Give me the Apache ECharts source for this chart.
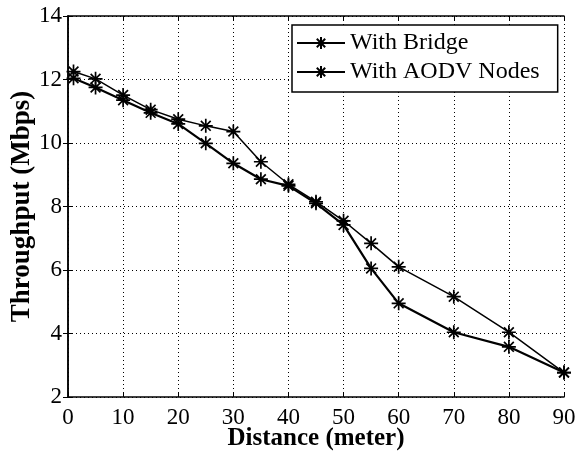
<!DOCTYPE html>
<html><head><meta charset="utf-8">
<script src="https://cdn.jsdelivr.net/npm/echarts@6/dist/echarts.min.js"></script>
<style>html,body{margin:0;padding:0;background:#fff}#c{width:577px;height:462px}</style>
</head><body><div id="c"></div>
<script>
const distances = [1,5,10,15,20,25,30,35,40,45,50,55,60,70,80,90];
const withBridge = [12.25,12.02,11.51,11.05,10.75,10.54,10.36,9.41,8.7,8.15,7.55,6.84,6.1,5.16,4.04,2.77];
const withAODV = [12.04,11.75,11.35,10.95,10.6,9.99,9.36,8.86,8.65,8.1,7.42,6.05,4.95,4.04,3.58,2.77];
const seriesNames = ['With Bridge','With AODV Nodes'];

const FONT = '"Liberation Serif", "DejaVu Serif", serif';
const star = 'path://M5,0L5,10M0,5L10,5M1.5,1.5L8.5,8.5M1.5,8.5L8.5,1.5';
const pairs = ys => distances.map((x,i)=>[x, ys[i]]);

const chart = echarts.init(document.getElementById('c'), null, {renderer:'canvas'});
const baseAxis = {
  axisLine:{show:true, lineStyle:{color:'#000', width:1.5}},
  axisTick:{show:true, inside:true, length:5, lineStyle:{color:'#000'}},
};
chart.setOption({
  animation:false,
  backgroundColor:'#fff',
  grid:{left:68, right:13, top:16, bottom:65, show:false, containLabel:false, outerBoundsMode:'none'},
  legend:{
    orient:'vertical', left:292, top:25,
    padding:[6,18,8,4], itemGap:5, itemWidth:48, itemHeight:15,
    borderColor:'#000', borderWidth:1.5, backgroundColor:'#fff',
    textStyle:{fontFamily:FONT, fontSize:24, color:'#000', lineHeight:24},
    data:seriesNames
  },
  xAxis:[
    Object.assign({}, baseAxis, {type:'value', min:0, max:90, interval:10,
      name:'Distance (meter)', nameLocation:'middle', nameGap:29, nameMoveOverlap:false,
      nameTextStyle:{fontFamily:FONT, fontSize:25, fontWeight:'bold', color:'#000'},
      axisLabel:{color:'#000', fontFamily:FONT, fontSize:23, margin:9},
      splitLine:{show:true, lineStyle:{color:'#000', type:[1,3], width:1}}}),
    Object.assign({}, baseAxis, {type:'value', min:0, max:90, interval:10, position:'top',
      axisLabel:{show:false}, splitLine:{show:false}})
  ],
  yAxis:[
    Object.assign({}, baseAxis, {type:'value', min:2, max:14, interval:2,
      name:'Throughput (Mbps)', nameLocation:'middle', nameGap:32, nameMoveOverlap:false,
      nameTextStyle:{fontFamily:FONT, fontSize:27, fontWeight:'bold', color:'#000'},
      axisLabel:{color:'#000', fontFamily:FONT, fontSize:23, margin:6},
      splitLine:{show:true, lineStyle:{color:'#000', type:[1,3], width:1}}}),
    Object.assign({}, baseAxis, {type:'value', min:2, max:14, interval:2, position:'right',
      axisLabel:{show:false}, splitLine:{show:false}})
  ],
  series:[
    {name:seriesNames[0], type:'line', data:pairs(withBridge), symbol:star, symbolSize:14,
     lineStyle:{color:'#000', width:1.5}, itemStyle:{color:'#000', borderColor:'#000', borderWidth:1.7}},
    {name:seriesNames[1], type:'line', data:pairs(withAODV), symbol:star, symbolSize:14,
     lineStyle:{color:'#000', width:2.2}, itemStyle:{color:'#000', borderColor:'#000', borderWidth:1.7}}
  ]
});
</script></body></html>
